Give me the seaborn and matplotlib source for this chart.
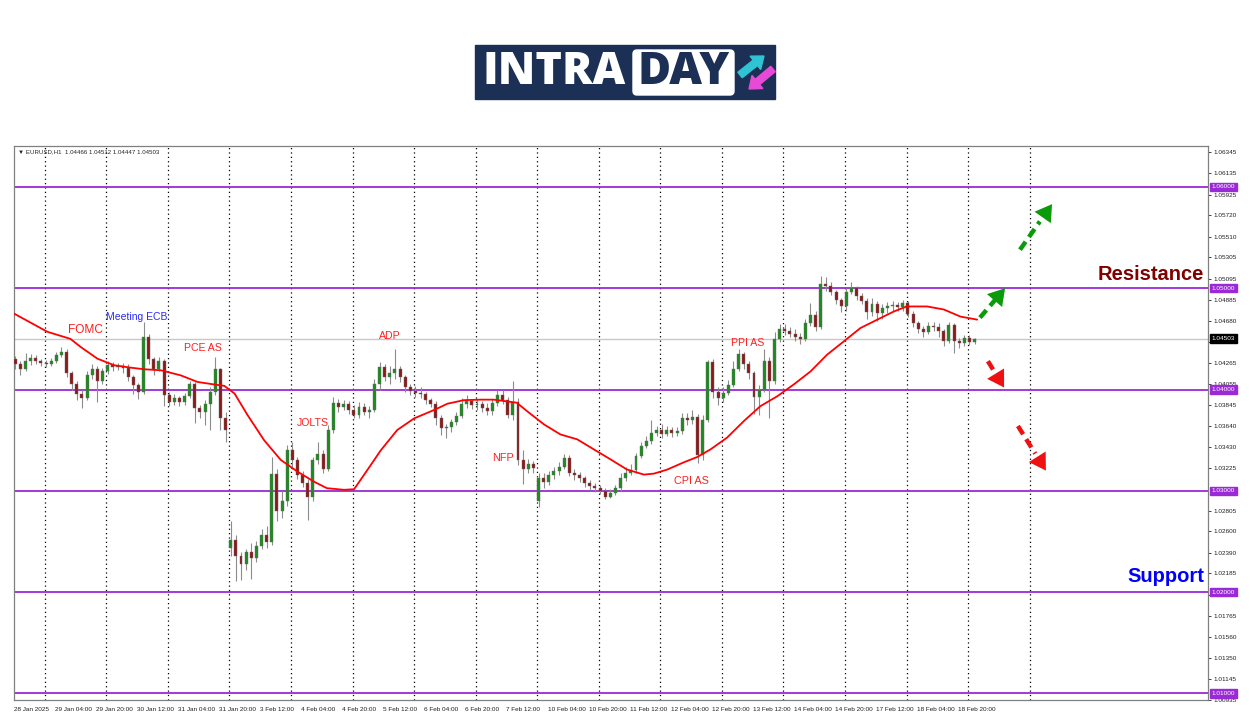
"""
EURUSD H1 chart with key events, support/resistance levels and MA,
redrawn with matplotlib + seaborn.
"""

import matplotlib
matplotlib.use("Agg")
import matplotlib.pyplot as plt
import seaborn as sns
import numpy as np
import pandas as pd
from matplotlib.patches import Rectangle, FancyBboxPatch, FancyArrow


# ─────────────────────────────────────────────
# 1. Data (2-hour candles, hour index on x)
# ─────────────────────────────────────────────

opens = [
    1.0430, 1.0425, 1.0420, 1.0428, 1.0431, 1.0428, 1.0426, 1.0425, 1.0428, 1.0434,
    1.0437, 1.0416, 1.0405, 1.0396, 1.0392, 1.0414, 1.0420, 1.0408, 1.0418, 1.0424,
    1.0422, 1.0423, 1.0421, 1.0412, 1.0404, 1.0398, 1.0452, 1.0430, 1.0420, 1.0428,
    1.0395, 1.0388, 1.0392, 1.0388, 1.0394, 1.0405, 1.0382, 1.0378, 1.0386, 1.0398,
    1.0420, 1.0372, 1.0244, 1.0251, 1.0236, 1.0228, 1.0240, 1.0234, 1.0246, 1.0256,
    1.0249, 1.0317, 1.0280, 1.0290, 1.0340, 1.0330, 1.0316, 1.0308, 1.0294, 1.0330,
    1.0336, 1.0322, 1.0360, 1.0387, 1.0383, 1.0386, 1.0380, 1.0375, 1.0383, 1.0378,
    1.0380, 1.0405, 1.0422, 1.0412, 1.0416, 1.0420, 1.0412, 1.0402, 1.0399, 1.0397,
    1.0396, 1.0390, 1.0386, 1.0372, 1.0362, 1.0363, 1.0368, 1.0374, 1.0386, 1.0389,
    1.0385, 1.0386, 1.0382, 1.0379, 1.0387, 1.0395, 1.0390, 1.0375, 1.0388, 1.0330,
    1.0322, 1.0326, 1.0290, 1.0313, 1.0309, 1.0316, 1.0320, 1.0324, 1.0332, 1.0318,
    1.0316, 1.0313, 1.0308, 1.0305, 1.0303, 1.0300, 1.0294, 1.0298, 1.0303, 1.0313,
    1.0318, 1.0321, 1.0334, 1.0344, 1.0349, 1.0357, 1.0360, 1.0356, 1.0360, 1.0357,
    1.0359, 1.0372, 1.0370, 1.0373, 1.0335, 1.0370, 1.0427, 1.0398, 1.0392, 1.0397,
    1.0404, 1.0420, 1.0435, 1.0425, 1.0416, 1.0393, 1.0400, 1.0428, 1.0408, 1.0450,
    1.0460, 1.0458, 1.0455, 1.0452, 1.0450, 1.0466, 1.0474, 1.0462, 1.0504, 1.0502,
    1.0496, 1.0488, 1.0482, 1.0496, 1.0500, 1.0492, 1.0487, 1.0477, 1.0484, 1.0476,
    1.0480, 1.0482, 1.0483, 1.0481, 1.0485, 1.0475, 1.0466, 1.0460, 1.0457, 1.0463,
    1.0462, 1.0458, 1.0448, 1.0464, 1.0448, 1.0446, 1.0451, 1.0447,
]
highs = [
    1.0433, 1.0428, 1.0436, 1.0435, 1.0434, 1.0430, 1.0429, 1.0431, 1.0437, 1.0442,
    1.0440, 1.0418, 1.0408, 1.0400, 1.0418, 1.0425, 1.0423, 1.0421, 1.0428, 1.0427,
    1.0426, 1.0426, 1.0425, 1.0414, 1.0406, 1.0467, 1.0455, 1.0432, 1.0432, 1.0430,
    1.0398, 1.0396, 1.0394, 1.0397, 1.0408, 1.0407, 1.0385, 1.0390, 1.0402, 1.0432,
    1.0421, 1.0378, 1.0270, 1.0256, 1.0240, 1.0243, 1.0248, 1.0250, 1.0262, 1.0265,
    1.0333, 1.0322, 1.0300, 1.0345, 1.0348, 1.0333, 1.0320, 1.0312, 1.0333, 1.0348,
    1.0340, 1.0365, 1.0393, 1.0391, 1.0390, 1.0389, 1.0385, 1.0388, 1.0387, 1.0384,
    1.0410, 1.0427, 1.0425, 1.0423, 1.0440, 1.0423, 1.0414, 1.0405, 1.0403, 1.0402,
    1.0398, 1.0392, 1.0389, 1.0375, 1.0366, 1.0371, 1.0378, 1.0392, 1.0395, 1.0391,
    1.0391, 1.0389, 1.0387, 1.0391, 1.0400, 1.0400, 1.0393, 1.0408, 1.0392, 1.0340,
    1.0331, 1.0329, 1.0318, 1.0318, 1.0320, 1.0324, 1.0328, 1.0336, 1.0335, 1.0322,
    1.0319, 1.0315, 1.0311, 1.0308, 1.0306, 1.0303, 1.0302, 1.0306, 1.0318, 1.0324,
    1.0326, 1.0337, 1.0348, 1.0354, 1.0370, 1.0364, 1.0366, 1.0364, 1.0363, 1.0363,
    1.0377, 1.0377, 1.0380, 1.0376, 1.0375, 1.0429, 1.0430, 1.0402, 1.0402, 1.0409,
    1.0428, 1.0440, 1.0437, 1.0428, 1.0418, 1.0404, 1.0440, 1.0432, 1.0457, 1.0465,
    1.0465, 1.0462, 1.0460, 1.0456, 1.0470, 1.0485, 1.0478, 1.0512, 1.0511, 1.0506,
    1.0498, 1.0490, 1.0500, 1.0506, 1.0502, 1.0495, 1.0490, 1.0490, 1.0487, 1.0484,
    1.0486, 1.0487, 1.0486, 1.0488, 1.0487, 1.0478, 1.0468, 1.0463, 1.0467, 1.0467,
    1.0466, 1.0460, 1.0467, 1.0466, 1.0451, 1.0454, 1.0454, 1.0451,
]
lows = [
    1.0420, 1.0414, 1.0418, 1.0424, 1.0425, 1.0423, 1.0422, 1.0423, 1.0426, 1.0432,
    1.0412, 1.0400, 1.0390, 1.0382, 1.0390, 1.0410, 1.0388, 1.0405, 1.0415, 1.0418,
    1.0419, 1.0416, 1.0408, 1.0396, 1.0391, 1.0396, 1.0425, 1.0414, 1.0418, 1.0384,
    1.0384, 1.0385, 1.0384, 1.0385, 1.0392, 1.0367, 1.0372, 1.0365, 1.0360, 1.0395,
    1.0360, 1.0348, 1.0236, 1.0211, 1.0212, 1.0222, 1.0213, 1.0230, 1.0243, 1.0244,
    1.0247, 1.0270, 1.0273, 1.0285, 1.0322, 1.0312, 1.0304, 1.0271, 1.0290, 1.0326,
    1.0318, 1.0320, 1.0357, 1.0378, 1.0380, 1.0376, 1.0372, 1.0372, 1.0375, 1.0372,
    1.0378, 1.0400, 1.0408, 1.0405, 1.0410, 1.0407, 1.0398, 1.0395, 1.0393, 1.0392,
    1.0386, 1.0383, 1.0365, 1.0355, 1.0352, 1.0358, 1.0365, 1.0372, 1.0382, 1.0381,
    1.0380, 1.0378, 1.0375, 1.0375, 1.0384, 1.0386, 1.0372, 1.0370, 1.0325, 1.0307,
    1.0318, 1.0318, 1.0284, 1.0303, 1.0306, 1.0312, 1.0316, 1.0322, 1.0315, 1.0311,
    1.0309, 1.0304, 1.0301, 1.0299, 1.0297, 1.0292, 1.0293, 1.0296, 1.0300, 1.0310,
    1.0316, 1.0318, 1.0332, 1.0342, 1.0346, 1.0354, 1.0352, 1.0354, 1.0353, 1.0354,
    1.0356, 1.0365, 1.0366, 1.0327, 1.0330, 1.0368, 1.0392, 1.0385, 1.0388, 1.0395,
    1.0402, 1.0418, 1.0420, 1.0410, 1.0376, 1.0375, 1.0398, 1.0372, 1.0405, 1.0447,
    1.0454, 1.0452, 1.0448, 1.0445, 1.0448, 1.0463, 1.0458, 1.0460, 1.0497, 1.0493,
    1.0484, 1.0477, 1.0478, 1.0494, 1.0488, 1.0484, 1.0470, 1.0473, 1.0468, 1.0470,
    1.0476, 1.0478, 1.0478, 1.0478, 1.0472, 1.0462, 1.0456, 1.0452, 1.0455, 1.0458,
    1.0452, 1.0443, 1.0446, 1.0436, 1.0441, 1.0443, 1.0444, 1.0445,
]
closes = [
    1.0425, 1.0420, 1.0428, 1.0431, 1.0428, 1.0426, 1.0425, 1.0428, 1.0434, 1.0437,
    1.0416, 1.0405, 1.0396, 1.0392, 1.0414, 1.0420, 1.0408, 1.0418, 1.0424, 1.0422,
    1.0423, 1.0421, 1.0412, 1.0404, 1.0398, 1.0452, 1.0430, 1.0420, 1.0428, 1.0395,
    1.0388, 1.0392, 1.0388, 1.0394, 1.0405, 1.0382, 1.0378, 1.0386, 1.0398, 1.0420,
    1.0372, 1.0360, 1.0251, 1.0236, 1.0228, 1.0240, 1.0234, 1.0246, 1.0256, 1.0249,
    1.0317, 1.0280, 1.0290, 1.0340, 1.0330, 1.0316, 1.0308, 1.0294, 1.0330, 1.0336,
    1.0322, 1.0360, 1.0387, 1.0383, 1.0386, 1.0380, 1.0375, 1.0383, 1.0378, 1.0380,
    1.0405, 1.0422, 1.0412, 1.0416, 1.0420, 1.0412, 1.0402, 1.0399, 1.0397, 1.0396,
    1.0390, 1.0386, 1.0372, 1.0362, 1.0363, 1.0368, 1.0374, 1.0386, 1.0389, 1.0385,
    1.0386, 1.0382, 1.0379, 1.0387, 1.0395, 1.0390, 1.0375, 1.0388, 1.0330, 1.0322,
    1.0326, 1.0323, 1.0313, 1.0309, 1.0316, 1.0320, 1.0324, 1.0332, 1.0318, 1.0316,
    1.0313, 1.0308, 1.0305, 1.0303, 1.0300, 1.0294, 1.0298, 1.0303, 1.0313, 1.0318,
    1.0321, 1.0334, 1.0344, 1.0349, 1.0357, 1.0360, 1.0356, 1.0360, 1.0357, 1.0359,
    1.0372, 1.0370, 1.0373, 1.0335, 1.0370, 1.0427, 1.0398, 1.0392, 1.0397, 1.0404,
    1.0420, 1.0435, 1.0425, 1.0416, 1.0393, 1.0400, 1.0428, 1.0408, 1.0450, 1.0460,
    1.0458, 1.0455, 1.0452, 1.0450, 1.0466, 1.0474, 1.0462, 1.0504, 1.0502, 1.0496,
    1.0488, 1.0482, 1.0496, 1.0500, 1.0492, 1.0487, 1.0477, 1.0484, 1.0476, 1.0480,
    1.0482, 1.0483, 1.0481, 1.0485, 1.0475, 1.0466, 1.0460, 1.0457, 1.0463, 1.0462,
    1.0458, 1.0448, 1.0464, 1.0448, 1.0446, 1.0451, 1.0447, 1.04503,
]

# moving average (hour index, price)
ma_hours = [
    0, 13, 22, 26, 32.5, 39, 45.5, 50.7, 57.2, 65, 71.5, 78, 82, 86, 91, 97.5,
    104, 110.5, 117, 122, 128.7, 132.6, 137.8, 143, 149.4, 156, 163.7, 169,
    175.4, 182, 187, 196, 200, 206.6, 213, 219.6, 226, 232.6, 239, 245.6, 249.5,
    254.7, 261, 266.4, 271.6, 278, 284.6, 291, 297.6, 304, 310.6, 317, 323.5,
    330, 336.5, 343, 348, 356, 362.5, 369, 375.5,
]
ma_values = [
    1.0475, 1.0457, 1.0450, 1.0442, 1.04305, 1.0424, 1.04216, 1.0420, 1.0419,
    1.0414, 1.04075, 1.0405, 1.04036, 1.0396, 1.0375, 1.0350, 1.03305, 1.0319,
    1.0309, 1.03026, 1.0301, 1.03016, 1.03207, 1.0340, 1.0360, 1.03715, 1.03797,
    1.0386, 1.03895, 1.0390, 1.0390, 1.0387, 1.03787, 1.03656, 1.03557, 1.03508,
    1.0341, 1.0331, 1.0321, 1.0316, 1.0317, 1.0321, 1.0328, 1.03334, 1.0341,
    1.03525, 1.0369, 1.03836, 1.03934, 1.0405, 1.0418, 1.04344, 1.04475, 1.04607,
    1.04689, 1.0477, 1.0482, 1.0482, 1.0479, 1.0472, 1.0469,
]

levels = [1.06, 1.05, 1.04, 1.03, 1.02, 1.01]
y_ticks = [
    1.00935, 1.01145, 1.01350, 1.01560, 1.01765, 1.01975, 1.02185, 1.02390,
    1.02600, 1.02805, 1.03225, 1.03430, 1.03640, 1.03845, 1.04055,
    1.04265, 1.04470, 1.04680, 1.04885, 1.05095, 1.05305, 1.05510, 1.05720,
    1.05925, 1.06135, 1.06345,
]
x_labels = [
    "28 Jan 2025", "29 Jan 04:00", "29 Jan 20:00", "30 Jan 12:00", "31 Jan 04:00",
    "31 Jan 20:00", "3 Feb 12:00", "4 Feb 04:00", "4 Feb 20:00", "5 Feb 12:00",
    "6 Feb 04:00", "6 Feb 20:00", "7 Feb 12:00", "10 Feb 04:00", "10 Feb 20:00",
    "11 Feb 12:00", "12 Feb 04:00", "12 Feb 20:00", "13 Feb 12:00", "14 Feb 04:00",
    "14 Feb 20:00", "17 Feb 12:00", "18 Feb 04:00", "18 Feb 20:00",
]
day_starts = [12, 36, 60, 84, 108, 132, 156, 180, 204, 228, 252, 276, 300, 324, 348, 372, 396]

# event labels: (text, hour index, price, colour, size)
events = [
    ("FOMC", 27.7, 1.0459, "#ff2020", 8.6),
    ("Meeting ECB", 48, 1.0472, "#2a2aff", 7.5),
    ("PCE AS", 73.7, 1.0441, "#ff2020", 7.6),
    ("JOLTS", 116.6, 1.0367, "#ff2020", 7.6),
    ("ADP", 146.6, 1.0453, "#ff2020", 7.6),
    ("NFP", 190.6, 1.0332, "#ff2020", 7.8),
    ("CPI AS", 264.3, 1.0310, "#ff2020", 7.8),
    ("PPI AS", 286.2, 1.0446, "#ff2020", 7.6),
]

# scenario arrows: (start hour, start price, tip hour, tip price, colour)
scenarios = [
    (376.6, 1.0471, 386.4, 1.0500, "#0a9a0a"),
    (392.2, 1.0538, 404.7, 1.0583, "#0a9a0a"),
    (379.7, 1.0428, 386.0, 1.0402, "#ee1111"),
    (391.4, 1.0364, 402.3, 1.0320, "#ee1111"),
]

PURPLE = "#9a2ad6"
BULL = "#1f8a1f"
BEAR = "#8b1a1a"
WICK = "#8c8c8c"


# ─────────────────────────────────────────────
# 2. Figure
# ─────────────────────────────────────────────

sns.set_style("white")
plt.rcParams["font.family"] = ["Liberation Sans", "DejaVu Sans"]

fig = plt.figure(figsize=(12.5, 7.16), dpi=100)
ax = fig.add_axes([14 / 1250, 16 / 716, 1194 / 1250, 554 / 716])

df = pd.DataFrame({"open": opens, "high": highs, "low": lows, "close": closes})
df["hour"] = np.arange(len(df)) * 2 + 0.5
up = df["close"] >= df["open"]

# wicks + bodies
ax.vlines(df["hour"], df["low"], df["high"], color=WICK, lw=0.8, zorder=3)
for mask, col in ((up, BULL), (~up, BEAR)):
    d = df[mask]
    body = (d["close"] - d["open"]).where((d["close"] - d["open"]).abs() > 0.00004, 0.00004)
    ax.bar(d["hour"], body, bottom=d["open"], width=1.15, color=col,
           edgecolor="#6a6a6a", linewidth=0.3, zorder=4)

# moving average
sns.lineplot(x=ma_hours, y=ma_values, color="#ff0000", lw=1.3, ax=ax,
             estimator=None, zorder=5)

# horizontal levels + current price line
ytr = ax.get_yaxis_transform()
for lv in levels:
    ax.axhline(lv, color=PURPLE, lw=1.3, zorder=2)
ax.axhline(closes[-1], color="#c8c8c8", lw=1, zorder=1)

# day separators
ax.set_xticks(day_starts, minor=True)
ax.grid(True, which="minor", axis="x", color="black", ls=(0, (1, 2.5)), lw=0.9)
ax.grid(False, which="major")

ax.set_xlim(0, 465.5)
ax.set_ylim(1.00941, 1.06404)

# axes / ticks
for sp in ax.spines.values():
    sp.set_color("#808080")
    sp.set_linewidth(0.9)

ax.yaxis.tick_right()
ax.set_yticks(y_ticks)
ax.set_yticklabels([f"{v:.5f}" for v in y_ticks], fontsize=4.6)
ax.set_xticks(np.arange(len(x_labels)) * 16)
ax.set_xticklabels(x_labels, fontsize=4.6, ha="left")
ax.tick_params(axis="y", which="major", length=2.5, width=0.6, pad=1.5, colors="#202020")
ax.tick_params(axis="x", which="major", length=3, width=0.6, pad=2, colors="#202020")
ax.tick_params(which="minor", length=0)
ax.set_xlabel("")
ax.set_ylabel("")

# level price boxes
for lv in levels:
    ax.annotate(f"{lv:.5f}", xy=(1, lv), xycoords=ytr, xytext=(2.6, 0),
                textcoords="offset points", va="center", ha="left", fontsize=4.6,
                color="white", annotation_clip=False, zorder=10,
                bbox=dict(boxstyle="square,pad=0.25", fc=PURPLE, ec=PURPLE))
ax.annotate(f"{closes[-1]:.5f}", xy=(1, closes[-1]), xycoords=ytr, xytext=(2.6, 0),
            textcoords="offset points", va="center", ha="left", fontsize=4.6,
            color="white", annotation_clip=False, zorder=10,
            bbox=dict(boxstyle="square,pad=0.25", fc="black", ec="black"))

# header line
ax.text(0.003, 0.994, "▼ EURUSD,H1  1.04466 1.04512 1.04447 1.04503",
        transform=ax.transAxes, va="top", ha="left", fontsize=4.4,
        family=["Liberation Sans", "DejaVu Sans"])

# events
for txt, hx, py, col, fs in events:
    ax.text(hx, py, txt, color=col, fontsize=fs, ha="center", va="center", zorder=6)

ax.text(0.9966, 1.0514, "Resistance", transform=ytr, color="#800000",
        fontsize=14.5, fontweight="bold", ha="right", va="center", zorder=8)
ax.text(0.9966, 1.0215, "Support", transform=ytr, color="#0000ff",
        fontsize=14.5, fontweight="bold", ha="right", va="center", zorder=8)

# dashed scenario arrows
for x0, y0, x1, y1, col in scenarios:
    xm = x0 + (x1 - x0) * 0.62
    ym = y0 + (y1 - y0) * 0.62
    ax.plot([x0, xm], [y0, ym], color=col, lw=3.2, ls=(0, (2.2, 1.3)),
            solid_capstyle="butt", zorder=7)
    ax.annotate("", xy=(x1, y1), xytext=(x0, y0),
                arrowprops=dict(arrowstyle="-|>,head_length=0.9,head_width=0.55",
                                color=col, lw=0, shrinkA=0, shrinkB=0,
                                mutation_scale=13), zorder=7)


# ─────────────────────────────────────────────
# 3. Logo
# ─────────────────────────────────────────────

lg = fig.add_axes([470 / 1250, 1 - 103 / 716, 310 / 1250, 63 / 716])
lg.set_xlim(470, 780)
lg.set_ylim(103, 40)
lg.axis("off")
NAVY = "#1c2f55"
lg.add_patch(Rectangle((475, 45), 300, 54, color=NAVY))
lg.add_patch(FancyBboxPatch((633, 50), 101, 45, boxstyle="round,pad=0,rounding_size=4",
                            fc="white", ec="white"))
lg.text(482, 73, "INTRA", color="white", fontsize=32.5, fontweight="heavy",
        family="Open Sans", ha="left", va="center")
lg.text(683.5, 73, "DAY", color=NAVY, fontsize=32.5, fontweight="heavy",
        family="Open Sans", ha="center", va="center")
lg.add_patch(FancyArrow(740, 75, 24, -19, width=7, head_width=17, head_length=11,
                        length_includes_head=True, color="#2ec4d4"))
lg.add_patch(FancyArrow(773, 69, -24, 20, width=7, head_width=17, head_length=11,
                        length_includes_head=True, color="#e64ad6"))

fig.savefig("out.png", dpi=100)
